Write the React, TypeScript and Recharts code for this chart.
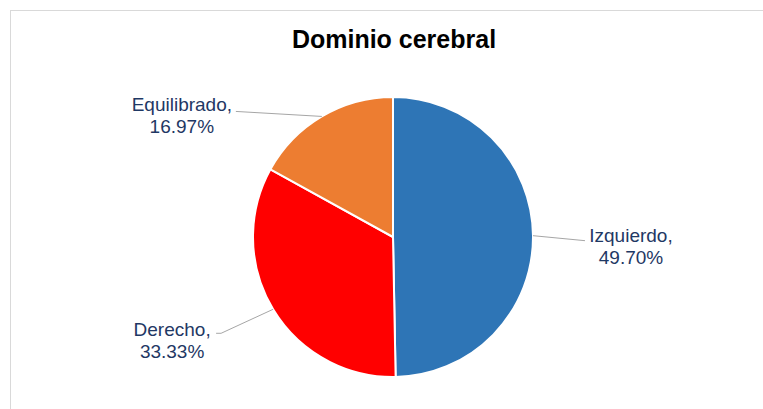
import React from 'react';
import { PieChart, Pie, Cell } from 'recharts';

const categories = ['Izquierdo', 'Derecho', 'Equilibrado'];
const percentages = [49.7, 33.33, 16.97];
const sliceColors = ['#2E75B6', '#FF0000', '#ED7D31'];

const data = categories.map((name, i) => ({ name, value: percentages[i] }));

// where each label sits relative to the point on the rim at the slice's mid angle
const labelLayout: Record<string, { line: [number, number][]; tx: number; ty: number }> = {
  Izquierdo: { line: [[52, 5]], tx: 98, ty: 6 },
  Derecho: { line: [[-52, 24], [-57, 24]], tx: -101, ty: 27 },
  Equilibrado: { line: [[-86, -5]], tx: -140, ty: -5 },
};

const RAD = Math.PI / 180;
const FONT = '"Liberation Sans", Arial, sans-serif';

const renderLabel = (props: any) => {
  const { cx, cy, midAngle, outerRadius, name, value } = props;
  const ex = cx + outerRadius * Math.cos(-midAngle * RAD);
  const ey = cy + outerRadius * Math.sin(-midAngle * RAD);
  const lay = labelLayout[name];
  const pts = [[0, 0], ...lay.line].map(([dx, dy]) => `${ex + dx},${ey + dy}`).join(' ');
  return (
    <g>
      <polyline points={pts} fill="none" stroke="#A6A6A6" strokeWidth={1} />
      <text
        x={ex + lay.tx}
        y={ey + lay.ty}
        textAnchor="middle"
        fontFamily={FONT}
        fontSize={19}
        fill="#1F3864"
      >
        <tspan x={ex + lay.tx}>{name},</tspan>
        <tspan x={ex + lay.tx} dy={22}>{value.toFixed(2)}%</tspan>
      </text>
    </g>
  );
};

export default function App() {
  return (
    <div
      style={{
        position: 'absolute',
        left: 0,
        top: 0,
        width: 763,
        height: 409,
        overflow: 'hidden',
        background: '#fff',
      }}
    >
      <div
        style={{
          position: 'absolute',
          left: 10,
          top: 10,
          width: 800,
          height: 500,
          border: '1px solid #D9D9D9',
        }}
      />
      <div
        style={{
          position: 'absolute',
          left: 0,
          top: 27,
          width: 788,
          textAlign: 'center',
          fontFamily: FONT,
          fontWeight: 'bold',
          fontSize: 25,
          lineHeight: '25px',
          color: '#000',
        }}
      >
        Dominio cerebral
      </div>
      <div style={{ position: 'absolute', left: 0, top: 0 }}>
        <PieChart width={763} height={409} margin={{ top: 0, right: 0, bottom: 0, left: 0 }}>
          <Pie
            data={data}
            dataKey="value"
            nameKey="name"
            cx={393}
            cy={237}
            outerRadius={140}
            startAngle={90}
            endAngle={-270}
            stroke="#FFFFFF"
            strokeWidth={2}
            labelLine={false}
            label={renderLabel}
            isAnimationActive={false}
          >
            {data.map((d, i) => (
              <Cell key={d.name} fill={sliceColors[i]} />
            ))}
          </Pie>
        </PieChart>
      </div>
    </div>
  );
}
